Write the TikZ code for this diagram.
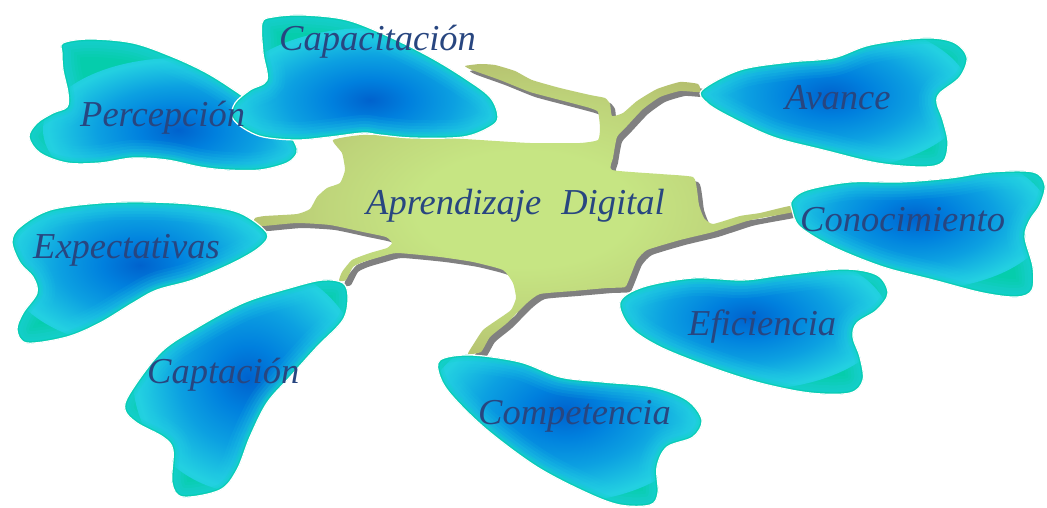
\documentclass[tikz,border=0pt]{standalone}
\usepackage{fontspec}
\setmainfont{Liberation Serif}
\definecolor{bdark}{RGB}{0,98,205}
\definecolor{bmid}{RGB}{0,128,222}
\definecolor{bblue}{RGB}{12,160,225}
\definecolor{bcyan}{RGB}{35,208,225}
\definecolor{bteal}{RGB}{20,210,205}
\definecolor{bedge}{RGB}{5,205,172}
\definecolor{gin}{RGB}{198,229,131}
\definecolor{gmid}{RGB}{190,212,122}
\definecolor{gout}{RGB}{180,190,110}
\definecolor{shadowgray}{RGB}{128,128,128}
\definecolor{txtblue}{RGB}{40,70,128}
\pgfdeclareradialshading{blobshade}{\pgfpoint{0bp}{0bp}}{color(0bp)=(bdark); color(7bp)=(bmid); color(15bp)=(bblue); color(24bp)=(bcyan); color(31bp)=(bteal); color(35bp)=(bedge); color(50bp)=(bedge)}
\pgfdeclareradialshading{greenshade}{\pgfpoint{0bp}{0bp}}{color(0bp)=(gin); color(10bp)=(gin); color(19bp)=(gmid); color(27bp)=(gout); color(50bp)=(gout)}
\newcommand\myblob[4]{%
  \begin{scope}
    \clip plot[smooth cycle, tension=0.55] coordinates {#1};
    \fill[bedge] (0,0) rectangle (1047,508);
    \shade[shading=blobshade] #2 ellipse [x radius=#3, y radius=#4];
    \foreach \w/\o in {36/0.10, 30/0.12, 24/0.15, 18/0.2}{%
      \draw[draw=bcyan, line width=\w pt, opacity=\o] plot[smooth cycle, tension=0.55] coordinates {#1};}
    \foreach \w/\o in {12/0.3, 8/0.4}{%
      \draw[draw=bteal, line width=\w pt, opacity=\o] plot[smooth cycle, tension=0.55] coordinates {#1};}
    \draw[draw=bedge, line width=4pt, opacity=0.7] plot[smooth cycle, tension=0.55] coordinates {#1};
  \end{scope}
  \draw[blobedge] plot[smooth cycle, tension=0.55] coordinates {#1};
}
\newcommand\greenoutline{plot[smooth cycle, tension=0.3] coordinates {(255,218) (265,216) (297,214) (310,209) (317,197) (327,188) (340,183) (345,170) (342,153) (333,140) (363,135) (430,137) (480,140) (530,143) (580,143) (598,140) (600,128) (598,112) (590,108) (560,100) (530,92) (500,80) (472,70) (465,66) (480,64) (495,65) (515,71) (532,80) (560,88) (590,95) (605,98) (610,104) (612,116) (623,113) (637,101) (657,89) (680,82) (698,84) (700,92) (680,91) (660,97) (643,109) (627,126) (617,137) (613,158) (612,170) (660,174) (693,177) (697,190) (699,205) (704,218) (713,224) (740,216) (760,213) (790,206) (793,212) (767,217) (747,221) (713,232) (680,240) (647,250) (637,260) (630,277) (625,287) (607,288) (573,291) (540,294) (527,303) (507,323) (490,337) (481,352) (468,354) (473,345) (483,330) (497,320) (511,310) (516,298) (513,283) (503,270) (473,262) (440,257) (397,253) (380,257) (363,262) (353,267) (346,280) (339,281) (342,272) (352,260) (370,253) (387,248) (392,243) (386,237) (363,232) (330,225) (297,223) (263,226) (255,224)}}
\tikzset{
  blobedge/.style={draw=white, line width=1.2pt},
  lbl/.style={font=\fontsize{36.5pt}{40pt}\selectfont\itshape, text=txtblue, anchor=base west, inner sep=0pt},
  greenshadow/.style={fill=shadowgray},
  greenbody/.style={shading=greenshade}
}
\begin{document}
\begin{tikzpicture}[x=1pt,y=-1pt]
\useasboundingbox (0,0) rectangle (1047,508);
\fill[white] (0,0) rectangle (1047,508);
% central body with shadow
\begin{scope}[shift={(5,5)}]
  \fill[greenshadow] \greenoutline;
\end{scope}
\shade[greenbody] \greenoutline;
% blobs
\myblob{(63,43) (90,39) (133,43) (173,57) (207,73) (237,92) (265,112) (285,128) (295,143) (297,153) (287,163) (260,170) (227,170) (200,167) (167,160) (133,158) (100,163) (67,163) (40,153) (29,137) (37,123) (53,113) (67,107) (68,93) (63,70) (62,53)}{(178,130)}{135}{72}
\myblob{(262,23) (273,17) (303,15) (347,20) (390,37) (430,57) (463,77) (490,97) (498,117) (490,127) (463,137) (413,138) (380,135) (363,133) (330,137) (297,140) (263,137) (243,128) (232,117) (235,103) (250,90) (267,80) (263,53)}{(370,100)}{140}{72}
\myblob{(702,90) (740,70) (790,62) (833,58) (870,45) (923,38) (953,42) (967,57) (960,77) (940,93) (937,103) (943,120) (948,143) (943,162) (923,167) (877,163) (823,150) (773,137) (730,117) (707,103)}{(830,95)}{140}{75}
\myblob{(792,200) (807,190) (850,182) (900,182) (950,178) (990,172) (1033,172) (1045,185) (1040,205) (1030,220) (1025,237) (1033,267) (1032,290) (1017,297) (983,293) (933,280) (883,267) (833,247) (800,227) (792,210)}{(915,218)}{135}{72}
\myblob{(12,242) (20,227) (50,210) (100,203) (150,202) (200,205) (240,213) (267,233) (260,247) (233,263) (193,280) (157,290) (133,303) (100,323) (67,337) (27,343) (17,330) (23,313) (37,293) (33,277) (20,263)}{(140,265)}{135}{82}
\myblob{(323,280) (343,283) (348,297) (343,320) (317,347) (290,377) (267,403) (250,437) (237,470) (220,490) (183,497) (172,483) (173,450) (163,437) (137,423) (125,410) (130,393) (160,353) (193,330) (243,303) (293,287)}{(248,378)}{115}{115}
\myblob{(620,302) (643,287) (693,278) (743,280) (783,275) (843,269) (877,275) (888,293) (877,310) (857,323) (853,337) (860,357) (863,380) (850,393) (810,393) (760,383) (710,367) (660,347) (630,327)}{(748,318)}{140}{72}
\myblob{(440,360) (470,355) (520,362) (560,377) (603,382) (653,387) (687,400) (702,420) (693,437) (667,447) (657,467) (658,493) (650,505) (620,505) (587,493) (537,467) (487,430) (453,397) (440,377)}{(565,412)}{140}{90}
% labels
\node[lbl] (percepcion) at (80,127) {Percepción};
\node[lbl] (capacitacion) at (279,51) {Capacitación};
\node[lbl] (avance) at (785,110) {Avance};
\node[lbl] (conocimiento) at (800,231) {Conocimiento};
\node[lbl] (expectativas) at (33,258) {Expectativas};
\node[lbl] (captacion) at (147,383) {Captación};
\node[lbl] (eficiencia) at (688,335) {Eficiencia};
\node[lbl] (competencia) at (478,424) {Competencia};
\node[lbl] (centro) at (366,214) {Aprendizaje\hspace{0.55em}Digital};
\end{tikzpicture}
\end{document}
